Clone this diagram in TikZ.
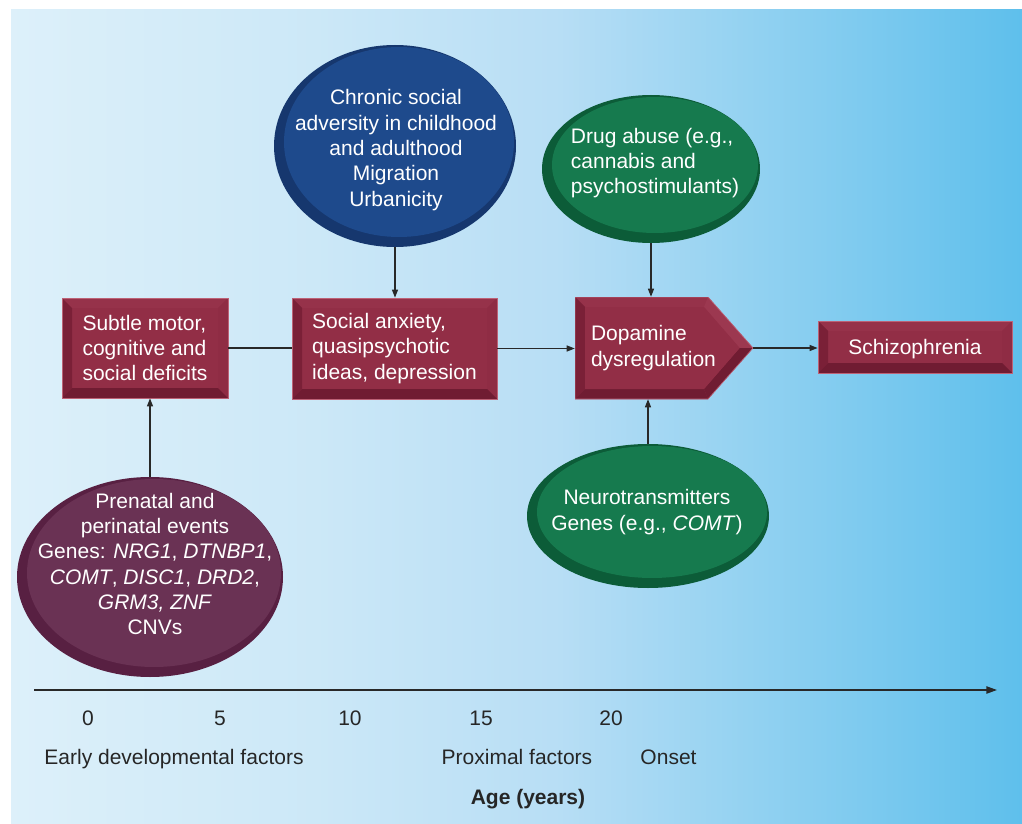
\documentclass[tikz,border=0pt]{standalone}
\usepackage{fontspec}
\setmainfont{Liberation Sans}
\usetikzlibrary{shapes.geometric,arrows.meta,calc}

\definecolor{boxface}{RGB}{146,46,70}
\definecolor{boxleft}{RGB}{122,32,55}
\definecolor{boxbottom}{RGB}{112,28,50}
\definecolor{boxtop}{RGB}{150,50,74}
\definecolor{boxright}{RGB}{143,44,68}
\definecolor{boxtip}{RGB}{156,56,80}
\definecolor{boxedge}{RGB}{188,98,118}
\definecolor{blueout}{RGB}{22,55,110}
\definecolor{bluein}{RGB}{30,74,140}
\definecolor{greenout}{RGB}{12,92,56}
\definecolor{greenin}{RGB}{22,122,78}
\definecolor{plumout}{RGB}{88,32,66}
\definecolor{plumin}{RGB}{106,50,84}
\definecolor{linecol}{RGB}{40,40,40}

% background: pale blue on the left to sky blue on the right
\pgfdeclarehorizontalshading{skyfade}{100bp}{%
  rgb(0bp)=(0.866,0.941,0.980);
  rgb(25bp)=(0.866,0.941,0.980);
  rgb(40bp)=(0.800,0.910,0.970);
  rgb(52bp)=(0.720,0.870,0.960);
  rgb(62bp)=(0.570,0.820,0.945);
  rgb(75bp)=(0.370,0.750,0.925);
  rgb(100bp)=(0.370,0.750,0.925)}

\begin{document}
\begin{tikzpicture}[x=0.75pt,y=-0.75pt,
  txt/.style={font=\fontsize{15.75pt}{19pt}\selectfont, text=white},
  flowbox/.style={txt, rectangle, align=left, inner sep=0pt, fill=boxface,
    draw=boxedge, line width=0.5pt,
    path picture={
      \coordinate (bSW) at (path picture bounding box.south west);
      \coordinate (bNE) at (path picture bounding box.north east);
      \coordinate (bNW) at (path picture bounding box.north west);
      \coordinate (bSE) at (path picture bounding box.south east);
      \fill[boxtop] (bNW) -- (bNE) -- ([shift={(-7.5pt,-7.5pt)}]bNE) -- ([shift={(7.5pt,-7.5pt)}]bNW) -- cycle;
      \fill[boxright] (bNE) -- (bSE) -- ([shift={(-7.5pt,7.5pt)}]bSE) -- ([shift={(-7.5pt,-7.5pt)}]bNE) -- cycle;
      \fill[boxleft] (bNW) -- (bSW) -- ([shift={(7.5pt,7.5pt)}]bSW) -- ([shift={(7.5pt,-7.5pt)}]bNW) -- cycle;
      \fill[boxbottom] (bSW) -- (bSE) -- ([shift={(-7.5pt,7.5pt)}]bSE) -- ([shift={(7.5pt,7.5pt)}]bSW) -- cycle;
    }},
  arrowbox/.style={txt, rectangle, align=left, inner sep=0pt,
    path picture={
      \coordinate (bSW) at (path picture bounding box.south west);
      \coordinate (bNE) at (path picture bounding box.north east);
      \coordinate (bNW) at (path picture bounding box.north west);
      \coordinate (bSE) at (path picture bounding box.south east);
      \coordinate (bE) at (path picture bounding box.east);
      \coordinate (shN) at ([xshift=-33.75pt]bNE);
      \coordinate (shS) at ([xshift=-33.75pt]bSE);
      \coordinate (iNW) at ([shift={(7.5pt,-7.5pt)}]bNW);
      \coordinate (iSW) at ([shift={(7.5pt,7.5pt)}]bSW);
      \coordinate (iN) at ([shift={(-3pt,-7.5pt)}]shN);
      \coordinate (iS) at ([shift={(-3pt,7.5pt)}]shS);
      \coordinate (iE) at ([xshift=-10pt]bE);
      \fill[boxtop] (bNW) -- (shN) -- (bE) -- (shS) -- (bSW) -- cycle;
      \fill[boxtip] (shN) -- (bE) -- (iE) -- (iN) -- cycle;
      \fill[boxbottom] (shS) -- (bE) -- (iE) -- (iS) -- cycle;
      \fill[boxleft] (bNW) -- (bSW) -- (iSW) -- (iNW) -- cycle;
      \fill[boxbottom] (bSW) -- (shS) -- (iS) -- (iSW) -- cycle;
      \fill[boxface] (iNW) -- (iN) -- (iE) -- (iS) -- (iSW) -- cycle;
      \draw[boxedge, line width=0.5pt] (bNW) -- (shN) -- (bE) -- (shS) -- (bSW) -- cycle;
    }},
  oval/.style={ellipse, inner sep=0pt,
    path picture={
      \fill[#1] let \p1=(path picture bounding box.south west),
                    \p2=(path picture bounding box.north east) in
        ($(\p1)!0.5!(\p2)+(3pt,3pt)$) ellipse ({0.5*(\x2-\x1)-4.5pt} and {0.5*(\y2-\y1)-4.5pt});
    }},
  ovaltext/.style={txt, align=center, inner sep=0pt},
  link/.style={draw=linecol, line width=0.9pt},
  arr/.style={link, -{Triangle[length=6pt,width=4.5pt]}},
  axislabel/.style={font=\fontsize{15.75pt}{19pt}\selectfont, text=black!85, anchor=base, inner sep=0pt}
]
\useasboundingbox (0,0) rectangle (1022,824);
\fill[white] (0,0) rectangle (1022,824);
\shade[shading=skyfade] (11,10) rectangle (1022,823);

% main chain of stages
\node[flowbox, minimum width=124.5pt, minimum height=75pt] (deficits) at (145,348)
  {Subtle motor,\\cognitive and\\social deficits};
\node[flowbox, minimum width=153.75pt, minimum height=75.75pt] (anxiety) at (394.5,348.5)
  {Social anxiety,\\quasipsychotic\\ideas, depression};
\node[arrowbox, minimum width=133.5pt, minimum height=76.5pt, text width=109.5pt] (dopamine) at (664,348)
  {Dopamine\\dysregulation};
\node[flowbox, align=center, text depth=0pt, minimum width=145.5pt, minimum height=39pt] (schizo) at (915,347)
  {Schizophrenia};

% contributing factors
\node[oval=bluein, fill=blueout, minimum width=181.5pt, minimum height=151.5pt] (adversity) at (395,146) {};
\node[ovaltext] (adversitytext) at (396,150)
  {Chronic social\\adversity in childhood\\and adulthood\\Migration\\Urbanicity};

\node[oval=greenin, fill=greenout, minimum width=163.5pt, minimum height=111pt] (drug) at (651,169) {};
\node[ovaltext, align=left] (drugtext) at (655,163)
  {Drug abuse (e.g.,\\cannabis and\\psychostimulants)};

\node[oval=greenin, fill=greenout, minimum width=181.5pt, minimum height=108pt] (transmit) at (648,516) {};
\node[ovaltext] (transmittext) at (647,512)
  {Neurotransmitters\\Genes (e.g., \textit{COMT})};

\node[oval=plumin, fill=plumout, minimum width=199.5pt, minimum height=150pt] (prenatal) at (150,577) {};
\node[ovaltext] (prenataltext) at (155,564)
  {Prenatal and\\perinatal events\\Genes: \textit{NRG1}, \textit{DTNBP1},\\\textit{COMT}, \textit{DISC1}, \textit{DRD2},\\\textit{GRM3, ZNF}\\CNVs};

% connectors
\draw[arr] (prenatal.north) -- (prenatal.north |- deficits.south);
\draw[link] (deficits.east) -- (deficits.east -| anxiety.west);
\draw[arr] (anxiety.east) -- (anxiety.east -| dopamine.west);
\draw[arr] (adversity.south) -- (adversity.south |- anxiety.north);
\draw[arr] (drug.south) -- (drug.south |- dopamine.north);
\draw[arr] (transmit.north) -- (transmit.north |- dopamine.south);
\draw[arr] (dopamine.east) -- (dopamine.east -| schizo.west);

% age axis
\coordinate (axstart) at (34,690);
\coordinate (axend) at (997,690);
\draw[draw=linecol, line width=1pt, -{Triangle[length=8pt,width=5.5pt]}] (axstart) -- (axend);

\node[axislabel] (age0) at (88,725) {0};
\node[axislabel] (age5) at (220,725) {5};
\node[axislabel] (age10) at (350,725) {10};
\node[axislabel] (age15) at (481,725) {15};
\node[axislabel] (age20) at (611,725) {20};

\node[axislabel] (early) at (174,764.5) {Early developmental factors};
\node[axislabel] (proximal) at (517,764.5) {Proximal factors};
\node[axislabel] (onset) at (668.5,764.5) {Onset};
\node[axislabel, font=\fontsize{15.75pt}{19pt}\selectfont\bfseries] (age) at (528,804.5) {Age (years)};
\end{tikzpicture}
\end{document}
